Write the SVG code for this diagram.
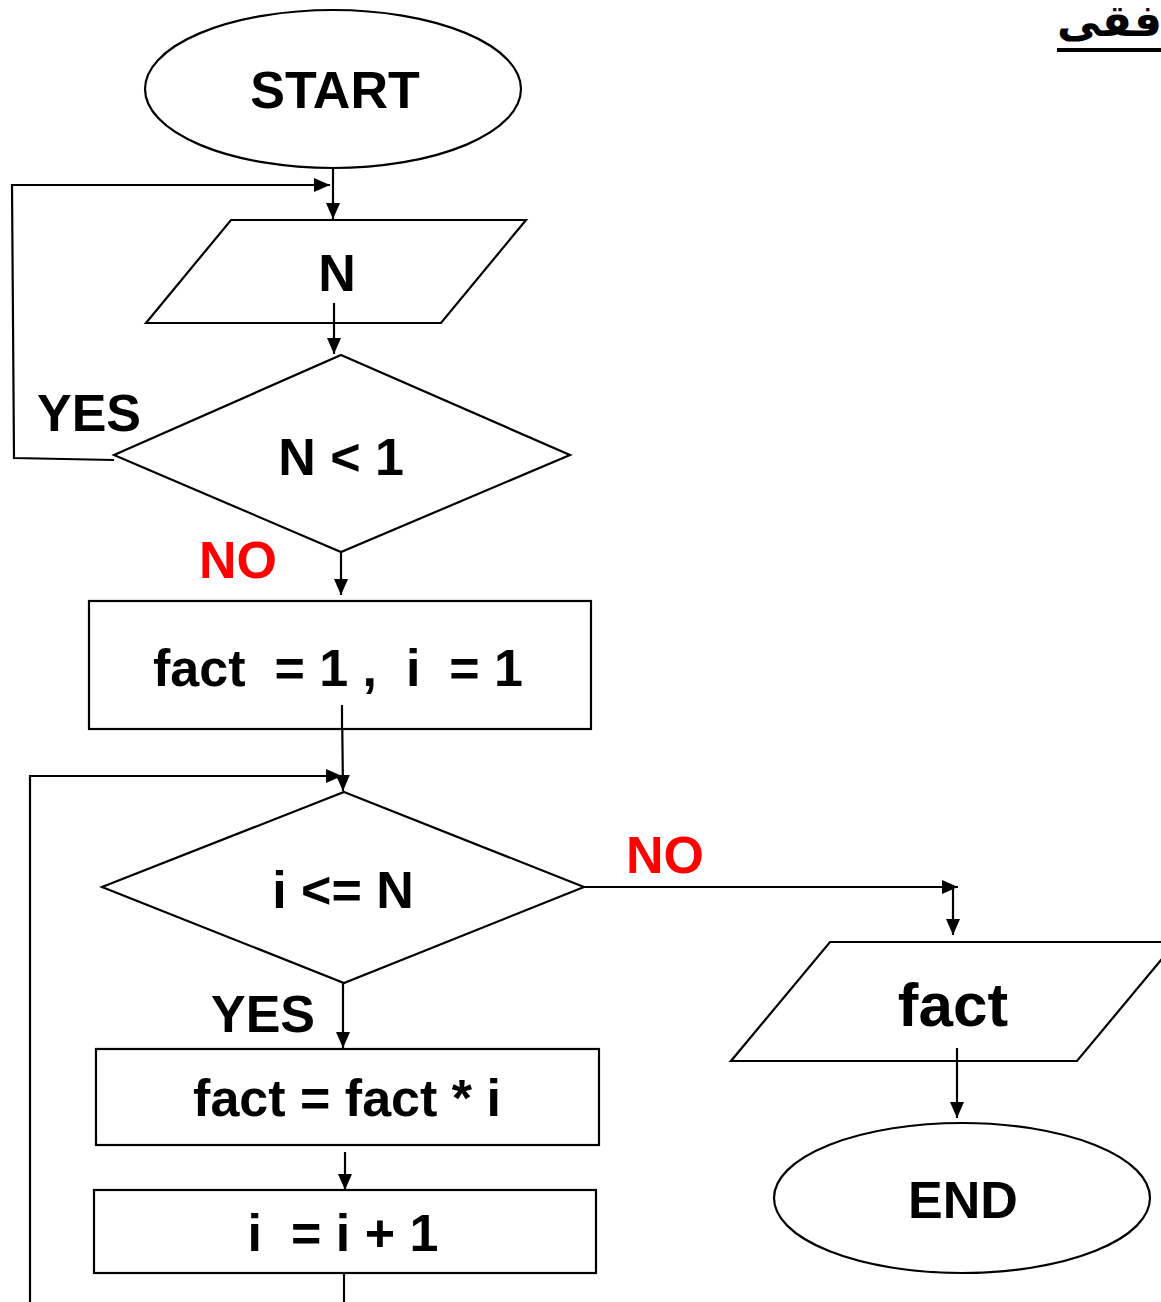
<svg xmlns="http://www.w3.org/2000/svg" width="1161" height="1302" viewBox="0 0 1161 1302">
  <defs>
    <marker id="arrow" viewBox="0 0 16 14" refX="16" refY="7" markerWidth="16" markerHeight="14" markerUnits="userSpaceOnUse" orient="auto">
      <path d="M0,0 L16,7 L0,14 Z" fill="#000"/>
    </marker>
    <style>
      .shape { fill: #fff; stroke: #000; stroke-width: 2.2; }
      .line { fill: none; stroke: #000; stroke-width: 2.2; }
      .arr { fill: none; stroke: #000; stroke-width: 2.2; marker-end: url(#arrow); }
      .t { font-family: "Liberation Sans", Arial, sans-serif; font-weight: bold; font-size: 52px; fill: #000; text-anchor: middle; white-space: pre; }
      .red { fill: #ff0000; }
      .ar { font-family: "DejaVu Sans", "Noto Sans", sans-serif; font-weight: bold; font-size: 44px; fill: #000; }
    </style>
  </defs>

  <rect width="1161" height="1302" fill="#fff"/>

  <!-- heading (runs off the right edge) -->
  <g id="heading">
    <text class="ar" x="1057" y="36">تدفقى</text>
    <line x1="1057" y1="50" x2="1161" y2="50" stroke="#000" stroke-width="4"/>
  </g>

  <!-- connectors -->
  <g id="connectors">
    <line class="arr" x1="333" y1="168" x2="333" y2="219"/>
    <polyline class="arr" points="114,460 14,458 12,185 330,185"/>
    <line class="arr" x1="334" y1="303" x2="334" y2="354"/>
    <line class="arr" x1="341" y1="548" x2="341" y2="595"/>
    <line class="arr" x1="342" y1="705" x2="343" y2="791"/>
    <polyline class="arr" points="30,1302 30,776 342,776"/>
    <line class="arr" x1="584" y1="887" x2="958" y2="887"/>
    <line class="arr" x1="953" y1="885" x2="953" y2="935"/>
    <line class="arr" x1="343" y1="983" x2="343" y2="1048"/>
    <line class="arr" x1="345" y1="1152" x2="345" y2="1190"/>
    <line class="line" x1="344" y1="1273" x2="344" y2="1302"/>
    <line class="arr" x1="957" y1="1048" x2="957" y2="1118"/>
  </g>

  <g id="start">
    <ellipse class="shape" cx="333" cy="89" rx="188" ry="79"/>
    <text class="t" x="335" y="108">START</text>
  </g>

  <g id="input-n">
    <polygon class="shape" points="231,220 526,220 441,323 146,323"/>
    <text class="t" x="337" y="291">N</text>
  </g>

  <g id="check-n">
    <polygon class="shape" points="341,355 570,455 341,552 114,455"/>
    <text class="t" x="341" y="475">N &lt; 1</text>
  </g>

  <g id="labels">
    <text class="t" x="89" y="431">YES</text>
    <text class="t red" x="238" y="578">NO</text>
    <text class="t red" x="665" y="873">NO</text>
    <text class="t" x="263" y="1032">YES</text>
  </g>

  <g id="init">
    <rect class="shape" x="89" y="601" width="502" height="128"/>
    <text class="t" x="338" y="686">fact  = 1 ,  i  = 1</text>
  </g>

  <g id="loop-test">
    <polygon class="shape" points="344,792 584,887 344,983 102,887"/>
    <text class="t" x="343" y="908">i &lt;= N</text>
  </g>

  <g id="multiply">
    <rect class="shape" x="96" y="1049" width="503" height="96"/>
    <text class="t" x="347" y="1116">fact = fact * i</text>
  </g>

  <g id="increment">
    <rect class="shape" x="94" y="1190" width="502" height="83"/>
    <text class="t" x="343" y="1251">i  = i + 1</text>
  </g>

  <g id="output-fact">
    <polygon class="shape" points="830,942 1176,942 1077,1061 731,1061"/>
    <text class="t" x="953" y="1026" style="font-size:62px">fact</text>
  </g>

  <g id="end">
    <ellipse class="shape" cx="962" cy="1198" rx="188" ry="75"/>
    <text class="t" x="963" y="1218">END</text>
  </g>

  <!-- connector stubs that start inside node outlines -->
  <g id="stubs">
    <line class="line" x1="334" y1="303" x2="334" y2="323"/>
    <line class="line" x1="342" y1="705" x2="342" y2="729"/>
    <line class="line" x1="957" y1="1048" x2="957" y2="1061"/>
  </g>
</svg>
